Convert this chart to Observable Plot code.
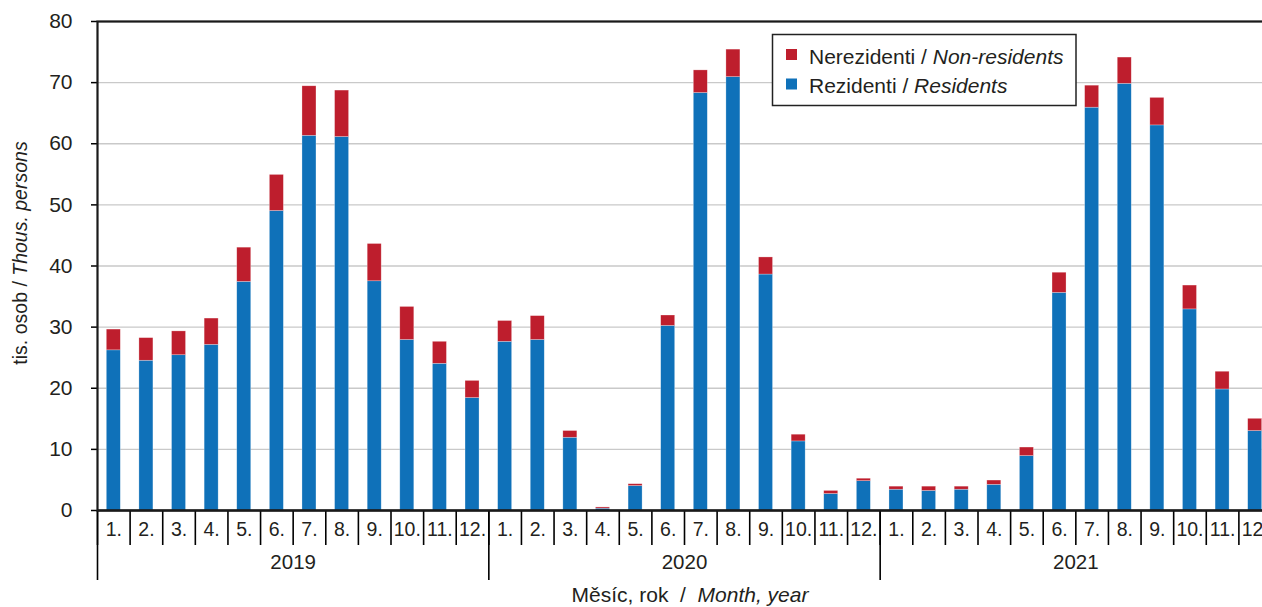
<!DOCTYPE html>
<html><head><meta charset="utf-8">
<script src="https://cdn.jsdelivr.net/npm/d3@7"></script>
<script src="https://cdn.jsdelivr.net/npm/@observablehq/plot@0.6"></script>
<style>
html,body{margin:0;padding:0;overflow:hidden;background:#fff;}
#chart{position:relative;width:1262px;height:607px;overflow:hidden;}
#chart svg{max-width:none !important;}
svg text{font-family:"Liberation Sans",Arial,sans-serif;}
</style></head><body><div id="chart"></div>
<script>
// ---- data ----
const years = ["2019", "2020", "2021"];
const monthLabels = ["1.", "2.", "3.", "4.", "5.", "6.", "7.", "8.", "9.", "10.", "11.", "12."];
const seriesNames = ["Rezidenti", "Nerezidenti"];
const seriesColors = ["#0f71b9", "#be1e2d"];
const yTicks = [0, 10, 20, 30, 40, 50, 60, 70, 80];

const residents2019 = [26.2, 24.5, 25.4, 27.1, 37.4, 49.0, 61.3, 61.1, 37.5, 27.9, 24.0, 18.4];
const nonResidents2019 = [3.4, 3.7, 3.9, 4.3, 5.6, 5.9, 8.1, 7.6, 6.1, 5.4, 3.6, 2.8];
const residents2020 = [27.6, 27.9, 11.9, 0.3, 4.0, 30.2, 68.3, 70.9, 38.6, 11.3, 2.7, 4.8];
const nonResidents2020 = [3.4, 3.9, 1.1, 0.2, 0.3, 1.7, 3.7, 4.5, 2.8, 1.1, 0.5, 0.4];
const residents2021 = [3.4, 3.2, 3.4, 4.2, 8.9, 35.6, 65.9, 69.8, 63.0, 32.9, 19.8, 13.0];
const nonResidents2021 = [0.5, 0.7, 0.5, 0.7, 1.4, 3.3, 3.6, 4.3, 4.5, 3.9, 2.9, 2.0];

const residentsByYear = [residents2019, residents2020, residents2021];
const nonResidentsByYear = [nonResidents2019, nonResidents2020, nonResidents2021];

// ---- table ----
const keys = [];
const rows = [];
years.forEach((yr, yi) => {
  monthLabels.forEach((m, mi) => {
    const key = yr + "-" + (mi + 1);
    keys.push(key);
    rows.push({key, month: m, series: "Rezidenti", value: residentsByYear[yi][mi]});
  });
});
years.forEach((yr, yi) => {
  monthLabels.forEach((m, mi) => {
    const key = yr + "-" + (mi + 1);
    rows.push({key, month: m, series: "Nerezidenti", value: nonResidentsByYear[yi][mi]});
  });
});
const monthOfKey = new Map(keys.map((k, i) => [k, monthLabels[i % 12]]));
const yearStarts = years.map(y => y + "-1");
const yearMids = years.map(y => ({key: y + "-7", year: y}));

// ---- layout ----
const W = 1272, H = 607, mL = 97, mR = 1, mT = 21, mB = 97;
const step = (W - mL - mR) / keys.length;
const frameH = H - mT - mB;
const barW = 14;
const inset = (step - barW) / 2;

const chart = Plot.plot({
  width: W, height: H,
  marginLeft: mL, marginRight: mR, marginTop: mT, marginBottom: mB,
  style: {fontFamily: "Liberation Sans, Arial, sans-serif", fontSize: "19px", color: "#231f20", background: "white", overflow: "visible", maxWidth: "none"},
  x: {type: "band", domain: keys, padding: 0, round: false, axis: null},
  y: {domain: [0, 80], axis: null},
  color: {domain: seriesNames, range: seriesColors},
  marks: [
    Plot.gridY(yTicks, {stroke: "#c9c9c9", strokeOpacity: 1, strokeWidth: 1.3}),
    Plot.barY(rows, {x: "key", y: "value", fill: "series", insetLeft: inset, insetRight: inset, stroke: "#ffffff", strokeOpacity: 0.45, strokeWidth: 0.6}),
    Plot.axisY(yTicks, {tickSize: 6, tickPadding: 19, fontSize: 21, label: null, stroke: "#000", strokeWidth: 1.5}),
    Plot.axisX({tickSize: 0, tickPadding: 12, tickFormat: k => monthOfKey.get(k), label: null, fontSize: 19.5}),
    Plot.ruleX(keys, {insetTop: frameH, insetBottom: -35, dx: -step / 2, stroke: "#000", strokeWidth: 1.6}),
    Plot.ruleX(yearStarts, {insetTop: frameH, insetBottom: -70, dx: -step / 2, stroke: "#000", strokeWidth: 1.6}),
    Plot.text(yearMids, {x: "key", text: "year", frameAnchor: "bottom", dy: 58, dx: -step / 2, fontSize: 20.5, fill: "#231f20"}),
    Plot.ruleY([0], {stroke: "#000", strokeWidth: 2.2}),
    Plot.frame({stroke: "#1a1a1a", strokeWidth: 2.2})
  ]
});
document.getElementById("chart").appendChild(chart);

// ---- titles and legend ----
const svg = d3.select(chart);
const ytitle = svg.append("text")
  .attr("transform", "translate(27,253) rotate(-90)")
  .attr("text-anchor", "middle")
  .attr("font-size", 19.5)
  .attr("fill", "#231f20");
ytitle.append("tspan").text("tis. osob / ");
ytitle.append("tspan").attr("font-style", "italic").text("Thous. persons");

const xtitle = svg.append("text")
  .attr("x", 690).attr("y", 602)
  .attr("text-anchor", "middle")
  .attr("font-size", 21)
  .attr("fill", "#231f20")
  .style("white-space", "pre");
xtitle.append("tspan").text("Měsíc, rok  /  ");
xtitle.append("tspan").attr("font-style", "italic").text("Month, year");

const lg = svg.append("g").attr("text-anchor", "start");
lg.append("rect").attr("x", 772.5).attr("y", 34.5).attr("width", 303.5).attr("height", 71)
  .attr("fill", "white").attr("stroke", "#222").attr("stroke-width", 1.5);
const legendItems = [
  {name: "Nerezidenti", en: "Non-residents", color: seriesColors[1]},
  {name: "Rezidenti", en: "Residents", color: seriesColors[0]}
];
legendItems.forEach((it, i) => {
  const y = 63.5 + i * 29.5;
  lg.append("rect").attr("x", 786).attr("y", y - 14.5).attr("width", 11).attr("height", 11).attr("fill", it.color);
  const t = lg.append("text").attr("x", 809).attr("y", y).attr("font-size", 21).attr("fill", "#231f20").attr("text-anchor", "start");
  t.append("tspan").text(it.name + " / ");
  t.append("tspan").attr("font-style", "italic").text(it.en);
});
</script>
</body></html>
